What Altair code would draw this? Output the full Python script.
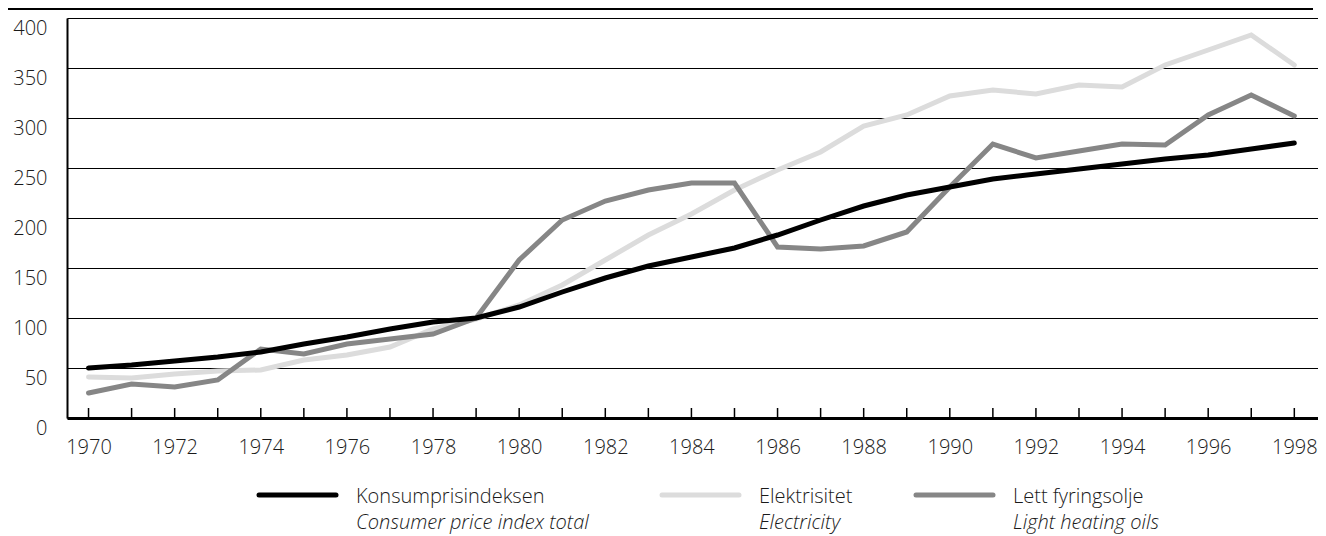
import altair as alt
import pandas as pd

years = list(range(1970, 1999))
cpi = [50, 53, 57, 61, 66, 74, 81, 89, 96, 100, 111, 126, 140, 152, 161, 170, 183, 198, 212, 223, 231, 239, 244, 249, 254, 259, 263, 269, 275]
electricity = [41, 40, 44, 47, 48, 58, 63, 71, 89, 99, 113, 133, 158, 183, 204, 228, 248, 266, 292, 303, 322, 328, 324, 333, 331, 353, 368, 383, 353]
oil = [25, 34, 31, 38, 69, 64, 74, 79, 84, 100, 158, 198, 217, 228, 235, 235, 171, 169, 172, 186, 231, 274, 260, 267, 274, 273, 303, 323, 302]

series = ["Konsumprisindeksen", "Elektrisitet", "Lett fyringsolje"]
series_en = ["Consumer price index total", "Electricity", "Light heating oils"]
colors = ["#000000", "#dcdcdc", "#868686"]
y_ticks = [0, 50, 100, 150, 200, 250, 300, 350, 400]

FONT = "Open Sans"
WEIGHT = 300
TXT = "#1a1a1a"

rows = []
for name, vals in zip(series, [cpi, electricity, oil]):
    for yr, v in zip(years, vals):
        rows.append({"year": yr, "value": v, "series": name})
df = pd.DataFrame(rows)
years_df = pd.DataFrame({"year": years})
legend_df = pd.DataFrame({"series": series, "en": series_en})

xscale = alt.Scale(domain=[1969.5, 1998.55], nice=False, zero=False)
yscale = alt.Scale(domain=[0, 400], nice=False, zero=True)
cscale = alt.Scale(domain=series, range=colors)

xaxis = alt.Axis(values=years[::2], format="d", ticks=False, tickSize=0, grid=False,
                 domainWidth=3, domainColor="black", labelFontSize=20, labelPadding=19,
                 labelColor=TXT, labelFont=FONT, labelFontWeight=WEIGHT, title=None,
                 labelFlush=False)
yaxis = alt.Axis(values=y_ticks, ticks=False, tickSize=0, grid=True, gridColor="black",
                 gridWidth=1, gridOpacity=1, domainWidth=2, domainColor="black",
                 labelFontSize=20, labelPadding=20, labelBaseline="top", labelColor=TXT,
                 labelFont=FONT, labelFontWeight=WEIGHT, title=None)

X = alt.X("year:Q", scale=xscale, axis=xaxis)
Y = alt.Y("value:Q", scale=yscale, axis=yaxis)

base = alt.Chart(df)


def series_line(name):
    return base.transform_filter(alt.datum.series == name).mark_line(
        strokeWidth=5, strokeCap="round", strokeJoin="miter"
    ).encode(
        x=X,
        y=Y,
        color=alt.Color("series:N", scale=cscale, legend=None),
    )


ticks = alt.Chart(years_df).mark_rule(color="black", strokeWidth=1.5).encode(
    x=X,
    y=alt.value(390),
    y2=alt.value(400),
)

# legend layout (pixel positions of each entry's symbol start, relative to plot area)
leg_pos = [192, 595, 849]
leg_layers = []
for name, pos in zip(series, leg_pos):
    sub = alt.Chart(legend_df).transform_filter(alt.datum.series == name)
    leg_layers.append(sub.mark_rule(strokeWidth=5, strokeCap="round").encode(
        x=alt.value(pos), x2=alt.value(pos + 77), y=alt.value(477),
        color=alt.Color("series:N", scale=cscale, legend=None),
    ))
    leg_layers.append(sub.mark_text(align="left", baseline="alphabetic", fontSize=20,
                                    font=FONT, fontWeight=WEIGHT, color=TXT).encode(
        x=alt.value(pos + 97), y=alt.value(484.7), text="series:N",
    ))
    leg_layers.append(sub.mark_text(align="left", baseline="alphabetic", fontSize=20,
                                    font=FONT, fontWeight=WEIGHT, color=TXT,
                                    fontStyle="italic").encode(
        x=alt.value(pos + 97), y=alt.value(511), text="en:N",
    ))

top_rule = alt.Chart(legend_df).mark_rule(color="black", strokeWidth=2).encode(
    x=alt.value(-59), x2=alt.value(1246), y=alt.value(-9)
)

chart = alt.layer(
    series_line(series[1]),
    series_line(series[2]),
    series_line(series[0]),
    ticks,
    top_rule,
    *leg_layers,
).properties(
    width=1251,
    height=400,
    padding={"left": 59, "top": 10, "right": 0, "bottom": 118},
    autosize=alt.AutoSizeParams(type="none"),
).configure_view(strokeWidth=0, stroke="transparent").configure(font=FONT)

chart.save("out.html", embed_options={"renderer": "svg", "actions": False})
